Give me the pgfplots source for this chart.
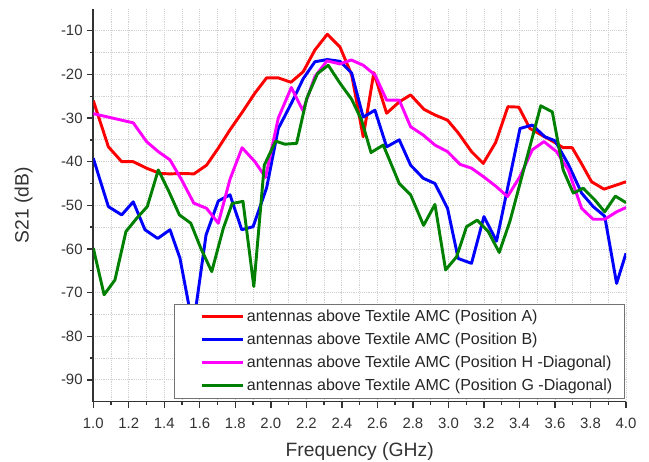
\documentclass[border=0pt]{standalone}
\usepackage{fontspec}
\setmainfont{Liberation Sans}
\usepackage{pgfplots}
\usepackage{pgfplotstable}
\pgfplotsset{compat=1.18}
\definecolor{cA}{RGB}{255,0,0}
\definecolor{cB}{RGB}{0,0,255}
\definecolor{cH}{RGB}{255,0,255}
\definecolor{cG}{RGB}{0,128,0}
\definecolor{axgray}{RGB}{51,51,51}

\pgfplotstableread{
x y
1.000 -26.0
1.085 -36.6
1.160 -40.0
1.225 -40.0
1.300 -41.5
1.376 -42.7
1.432 -42.8
1.498 -42.7
1.567 -42.8
1.638 -40.8
1.704 -36.9
1.770 -32.7
1.840 -28.6
1.910 -24.3
1.976 -20.8
2.042 -20.8
2.113 -21.8
2.182 -19.4
2.248 -14.4
2.318 -10.8
2.389 -13.7
2.455 -20.1
2.520 -34.3
2.580 -19.6
2.652 -28.9
2.723 -26.3
2.787 -24.7
2.862 -28.0
2.924 -29.3
2.995 -30.5
3.055 -33.4
3.130 -37.7
3.196 -40.4
3.266 -35.6
3.335 -27.4
3.396 -27.5
3.459 -32.4
3.520 -33.8
3.590 -35.4
3.646 -36.8
3.697 -36.8
3.750 -40.5
3.806 -44.6
3.876 -46.3
3.950 -45.3
4.000 -44.6
}\dataA

\pgfplotstableread{
x y
1.000 -39.2
1.038 -44.2
1.085 -50.3
1.160 -52.2
1.225 -49.2
1.291 -55.6
1.363 -57.6
1.432 -55.6
1.488 -62.1
1.562 -78.0
1.635 -56.8
1.704 -49.0
1.770 -47.6
1.836 -55.6
1.900 -54.9
1.976 -46.0
2.042 -32.4
2.117 -26.5
2.182 -21.0
2.248 -17.1
2.318 -16.6
2.389 -17.0
2.455 -19.7
2.520 -29.8
2.586 -28.2
2.652 -36.6
2.723 -35.0
2.787 -40.8
2.858 -43.8
2.924 -45.0
2.995 -50.7
3.055 -62.2
3.130 -63.3
3.200 -52.6
3.271 -58.2
3.403 -32.4
3.472 -31.6
3.543 -34.3
3.600 -35.2
3.675 -40.6
3.750 -47.2
3.815 -50.3
3.880 -52.5
3.947 -67.9
4.000 -61.0
}\dataB

\pgfplotstableread{
x y
1.000 -29.0
1.225 -31.1
1.300 -35.4
1.366 -37.7
1.432 -39.6
1.498 -44.2
1.566 -49.5
1.638 -50.7
1.704 -54.1
1.770 -44.0
1.838 -36.8
1.910 -40.0
1.970 -43.6
2.042 -30.0
2.115 -23.0
2.180 -28.3
2.248 -20.5
2.316 -16.9
2.389 -17.6
2.453 -16.7
2.520 -17.9
2.586 -20.1
2.652 -25.9
2.723 -25.9
2.787 -32.0
2.858 -33.9
2.924 -36.2
2.995 -37.7
3.065 -40.6
3.130 -41.5
3.196 -43.4
3.266 -45.6
3.333 -48.0
3.403 -43.4
3.472 -37.3
3.538 -35.4
3.609 -37.7
3.675 -41.9
3.750 -50.7
3.815 -53.2
3.880 -53.2
3.947 -51.5
4.000 -50.5
}\dataH

\pgfplotstableread{
x y
1.000 -59.8
1.061 -70.5
1.122 -67.1
1.184 -56.0
1.244 -53.0
1.304 -50.3
1.366 -41.9
1.422 -46.5
1.485 -52.2
1.549 -54.1
1.605 -59.8
1.667 -65.2
1.732 -55.3
1.782 -49.6
1.843 -49.1
1.904 -68.6
1.963 -40.8
2.027 -35.3
2.079 -36.0
2.145 -35.8
2.202 -25.5
2.263 -19.8
2.323 -17.9
2.389 -22.0
2.455 -25.7
2.511 -30.5
2.564 -37.9
2.633 -36.2
2.723 -45.0
2.787 -47.6
2.860 -54.6
2.924 -49.8
2.984 -64.8
3.046 -61.8
3.102 -54.9
3.162 -53.4
3.224 -56.0
3.286 -60.8
3.346 -53.7
3.520 -27.2
3.585 -28.6
3.646 -41.9
3.703 -47.2
3.759 -46.1
3.825 -48.8
3.880 -51.5
3.940 -47.9
4.000 -49.4
}\dataG

\begin{document}
\begin{tikzpicture}
\path[use as bounding box] (-70pt,-45.15pt) rectangle (417pt,301.4pt);
\begin{axis}[
  scale only axis,
  width=399.75pt, height=294.7pt,
  at={(0pt,0pt)}, anchor=south west,
  xmin=1, xmax=4, ymin=-95, ymax=-5,
  axis x line*=bottom, axis y line*=left,
  xtick={1.0,1.2,1.4,1.6,1.8,2.0,2.2,2.4,2.6,2.8,3.0,3.2,3.4,3.6,3.8,4.0},
  ytick={-90,-80,-70,-60,-50,-40,-30,-20,-10},
  minor x tick num=1, minor y tick num=1,
  xticklabel style={/pgf/number format/.cd, fixed, fixed zerofill, precision=1, /tikz/.cd, yshift=-4.5pt},
  /pgf/number format/assume math mode=true,
  grid=both,
  major grid style={densely dotted, black!18, line width=0.6pt},
  minor grid style={densely dotted, black!18, line width=0.6pt},
  tick align=outside,
  major tick length=4.5pt, minor tick length=2.5pt,
  axis line style={line width=1.2pt, axgray},
  every tick/.style={line width=1pt, axgray},
  tick label style={font=\fontsize{11.2}{13}\selectfont, text=axgray},
  xlabel={Frequency (GHz)}, ylabel={S21 (dB)},
  label style={font=\fontsize{14.5}{17}\selectfont, text=axgray},
  xlabel style={at={([yshift=-41.4pt]axis description cs:0.5,0)}, anchor=base},
  ylabel style={at={([xshift=-48.6pt]axis description cs:0,0.5)}, anchor=base, rotate=0},
  legend cell align=left,
  legend style={at={(axis description cs:0.9975,0.008)}, anchor=south east,
    draw=black!55, line width=0.6pt, fill=white,
    font=\fontsize{12}{14}\selectfont, text=black!85,
    inner xsep=7.5pt, inner ysep=2.8pt, row sep=4.1pt,
    nodes={inner sep=1.5pt}},
  legend image code/.code={\path (0pt,0pt); \draw[#1, line width=2.2pt] (12pt,0pt) -- (43.5pt,0pt);},
  every axis plot/.append style={line width=2.2pt, line join=round},
]
\addplot[cA] table[x=x,y=y] {\dataA};
\addplot[cB] table[x=x,y=y] {\dataB};
\addplot[cH] table[x=x,y=y] {\dataH};
\addplot[cG] table[x=x,y=y] {\dataG};
\legend{antennas above Textile AMC (Position A),
        antennas above Textile AMC (Position B),
        antennas above Textile AMC (Position H -Diagonal),
        antennas above Textile AMC (Position G -Diagonal)}
\end{axis}
\end{tikzpicture}
\end{document}
